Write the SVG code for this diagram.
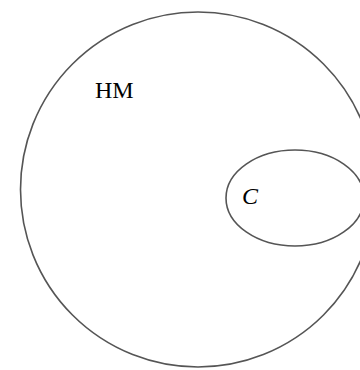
<svg xmlns="http://www.w3.org/2000/svg" width="360" height="370" viewBox="0 0 360 370">
<style>
.set{fill:none;stroke:#555;stroke-width:1.6}
.lbl{font-family:"Liberation Serif",serif;font-size:24px;fill:#000}
</style>
<rect width="360" height="370" fill="#fff"/>
<g id="HM">
<circle class="set" cx="198" cy="189.5" r="177.5"/>
<text class="lbl" x="95" y="98">HM</text>
</g>
<g id="C">
<ellipse class="set" cx="295" cy="198" rx="69" ry="48"/>
<text class="lbl" x="242" y="204" font-style="italic">C</text>
</g>
<g id="connectors"></g>
</svg>
